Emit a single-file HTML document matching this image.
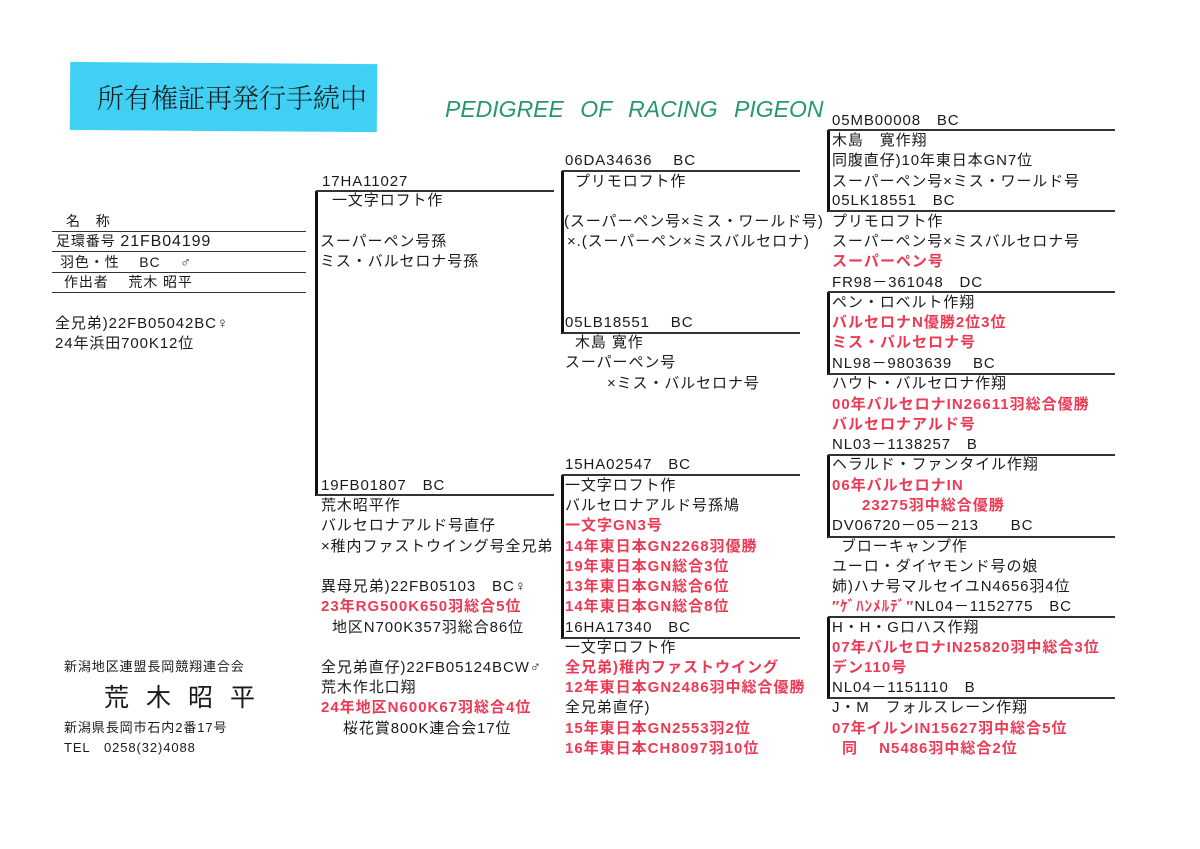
<!DOCTYPE html>
<html><head><meta charset="utf-8"><style>
body{margin:0;background:#fff;}
#p{position:relative;width:1200px;height:849px;overflow:hidden;font-family:"Liberation Sans","Noto Sans CJK JP",sans-serif;color:#1a1a1a;}
.t{position:absolute;font-size:15px;line-height:18px;white-space:nowrap;letter-spacing:0.9px;}
.r{color:#ec3a55;font-weight:bold;letter-spacing:1px;}
.h{position:absolute;height:2px;background:#333;}
.v{position:absolute;width:3px;background:#111;}
</style></head><body><div id="p">
<div style="position:absolute;left:70px;top:63px;width:307px;height:68px;background:#3fd0f3;transform:rotate(0.4deg)"></div>
<div class="t" style="left:97px;top:80px;font-size:27px;line-height:34px;letter-spacing:0px;font-family:'Noto Serif CJK SC','Noto Sans CJK JP',serif;font-weight:300;">所有権証再発行手続中</div>
<div class="t" style="left:445px;top:95px;font-size:23px;line-height:28px;font-style:italic;color:#27986a;letter-spacing:0px;word-spacing:10px;">PEDIGREE OF RACING PIGEON</div>

<!-- left table -->
<div class="t" style="left:66px;top:212px;font-size:14px;">名　称</div>
<div class="h" style="left:52px;top:231px;width:254px;height:1px"></div>
<div class="t" style="left:56px;top:232px;font-size:14px;">足環番号 <span style="font-size:16px">21FB04199</span></div>
<div class="h" style="left:52px;top:251px;width:254px;height:1px"></div>
<div class="t" style="left:60px;top:253px;font-size:14px;">羽色・性　 BC　 ♂</div>
<div class="h" style="left:52px;top:272px;width:254px;height:1px"></div>
<div class="t" style="left:64px;top:273px;font-size:14px;">作出者　 荒木 昭平</div>
<div class="h" style="left:52px;top:292px;width:254px;height:1px"></div>
<div class="t" style="left:55px;top:315px;">全兄弟)22FB05042BC♀</div>
<div class="t" style="left:55px;top:335px;">24年浜田700K12位</div>

<div class="t" style="left:64px;top:658px;font-size:13px;">新潟地区連盟長岡競翔連合会</div>
<div class="t" style="left:104px;top:684px;font-size:25px;line-height:28px;letter-spacing:17px;">荒木昭平</div>
<div class="t" style="left:64px;top:719px;font-size:13px;">新潟県長岡市石内2番17号</div>
<div class="t" style="left:64px;top:739px;font-size:13px;">TEL　0258(32)4088</div>

<!-- gen1 -->
<div class="v" style="left:315px;top:191px;height:305px"></div>
<div class="h" style="left:316px;top:190px;width:238px"></div>
<div class="h" style="left:316px;top:494px;width:238px"></div>
<div class="t" style="left:322px;top:173px;">17HA11027</div>
<div class="t" style="left:332px;top:192px;">一文字ロフト作</div>
<div class="t" style="left:320px;top:233px;">スーパーペン号孫</div>
<div class="t" style="left:320px;top:253px;">ミス・バルセロナ号孫</div>
<div class="t" style="left:321px;top:477px;">19FB01807　BC</div>
<div class="t" style="left:321px;top:497px;">荒木昭平作</div>
<div class="t" style="left:321px;top:517px;">バルセロナアルド号直仔</div>
<div class="t" style="left:321px;top:538px;">×稚内ファストウイング号全兄弟</div>
<div class="t" style="left:321px;top:578px;">異母兄弟)22FB05103　BC♀</div>
<div class="t r" style="left:321px;top:598px;">23年RG500K650羽総合5位</div>
<div class="t" style="left:332px;top:619px;">地区N700K357羽総合86位</div>
<div class="t" style="left:321px;top:659px;">全兄弟直仔)22FB05124BCW♂</div>
<div class="t" style="left:321px;top:679px;">荒木作北口翔</div>
<div class="t r" style="left:321px;top:699px;">24年地区N600K67羽総合4位</div>
<div class="t" style="left:343px;top:720px;">桜花賞800K連合会17位</div>

<!-- gen2 top -->
<div class="v" style="left:561px;top:171px;height:163px"></div>
<div class="h" style="left:562px;top:170px;width:238px"></div>
<div class="h" style="left:562px;top:332px;width:238px"></div>
<div class="t" style="left:565px;top:152px;">06DA34636　 BC</div>
<div class="t" style="left:575px;top:173px;">プリモロフト作</div>
<div class="t" style="left:564px;top:213px;">(スーパーペン号×ミス・ワールド号)</div>
<div class="t" style="left:567px;top:233px;">×.(スーパーペン×ミスバルセロナ)</div>
<div class="t" style="left:565px;top:314px;">05LB18551　 BC</div>
<div class="t" style="left:575px;top:334px;">木島 寛作</div>
<div class="t" style="left:565px;top:354px;">スーパーペン号</div>
<div class="t" style="left:607px;top:375px;">×ミス・バルセロナ号</div>

<!-- gen2 bottom -->
<div class="v" style="left:561px;top:475px;height:164px"></div>
<div class="h" style="left:562px;top:474px;width:238px"></div>
<div class="h" style="left:562px;top:637px;width:238px"></div>
<div class="t" style="left:565px;top:456px;">15HA02547　BC</div>
<div class="t" style="left:565px;top:477px;">一文字ロフト作</div>
<div class="t" style="left:565px;top:497px;">バルセロナアルド号孫鳩</div>
<div class="t r" style="left:565px;top:517px;">一文字GN3号</div>
<div class="t r" style="left:565px;top:538px;">14年東日本GN2268羽優勝</div>
<div class="t r" style="left:565px;top:558px;">19年東日本GN総合3位</div>
<div class="t r" style="left:565px;top:578px;">13年東日本GN総合6位</div>
<div class="t r" style="left:565px;top:598px;">14年東日本GN総合8位</div>
<div class="t" style="left:565px;top:619px;">16HA17340　BC</div>
<div class="t" style="left:565px;top:639px;">一文字ロフト作</div>
<div class="t r" style="left:565px;top:659px;">全兄弟)稚内ファストウイング</div>
<div class="t r" style="left:565px;top:679px;">12年東日本GN2486羽中総合優勝</div>
<div class="t" style="left:565px;top:699px;">全兄弟直仔)</div>
<div class="t r" style="left:565px;top:720px;">15年東日本GN2553羽2位</div>
<div class="t r" style="left:565px;top:740px;">16年東日本CH8097羽10位</div>

<!-- gen3 -->
<div class="v" style="left:827px;top:130px;height:82px"></div>
<div class="h" style="left:828px;top:129px;width:287px"></div>
<div class="h" style="left:828px;top:210px;width:287px"></div>
<div class="v" style="left:827px;top:292px;height:83px"></div>
<div class="h" style="left:828px;top:291px;width:287px"></div>
<div class="h" style="left:828px;top:373px;width:287px"></div>
<div class="v" style="left:827px;top:455px;height:83px"></div>
<div class="h" style="left:828px;top:454px;width:287px"></div>
<div class="h" style="left:828px;top:536px;width:287px"></div>
<div class="v" style="left:827px;top:617px;height:82px"></div>
<div class="h" style="left:828px;top:616px;width:287px"></div>
<div class="h" style="left:828px;top:697px;width:287px"></div>

<div class="t" style="left:832px;top:112px;">05MB00008　BC</div>
<div class="t" style="left:832px;top:132px;">木島　寛作翔</div>
<div class="t" style="left:832px;top:152px;">同腹直仔)10年東日本GN7位</div>
<div class="t" style="left:832px;top:173px;">スーパーペン号×ミス・ワールド号</div>
<div class="t" style="left:832px;top:192px;">05LK18551　BC</div>
<div class="t" style="left:832px;top:213px;">プリモロフト作</div>
<div class="t" style="left:832px;top:233px;">スーパーペン号×ミスバルセロナ号</div>
<div class="t r" style="left:832px;top:253px;">スーパーペン号</div>
<div class="t" style="left:832px;top:274px;">FR98－361048　DC</div>
<div class="t" style="left:832px;top:294px;">ペン・ロベルト作翔</div>
<div class="t r" style="left:832px;top:314px;">バルセロナN優勝2位3位</div>
<div class="t r" style="left:832px;top:334px;">ミス・バルセロナ号</div>
<div class="t" style="left:832px;top:355px;">NL98－9803639　 BC</div>
<div class="t" style="left:832px;top:375px;">ハウト・バルセロナ作翔</div>
<div class="t r" style="left:832px;top:396px;">00年バルセロナIN26611羽総合優勝</div>
<div class="t r" style="left:832px;top:416px;">バルセロナアルド号</div>
<div class="t" style="left:832px;top:436px;">NL03－1138257　B</div>
<div class="t" style="left:832px;top:456px;">ヘラルド・ファンタイル作翔</div>
<div class="t r" style="left:832px;top:477px;">06年バルセロナIN</div>
<div class="t r" style="left:862px;top:497px;">23275羽中総合優勝</div>
<div class="t" style="left:832px;top:517px;">DV06720－05－213　　BC</div>
<div class="t" style="left:841px;top:538px;">ブローキャンプ作</div>
<div class="t" style="left:832px;top:558px;">ユーロ・ダイヤモンド号の娘</div>
<div class="t" style="left:832px;top:578px;">姉)ハナ号マルセイユN4656羽4位</div>
<div class="t" style="left:832px;top:598px;"><span class="r">″ｹﾞﾊﾝﾒﾙﾃﾞ″</span>NL04－1152775　BC</div>
<div class="t" style="left:832px;top:619px;">H・H・Gロハス作翔</div>
<div class="t r" style="left:832px;top:639px;">07年バルセロナIN25820羽中総合3位</div>
<div class="t r" style="left:832px;top:659px;">デン110号</div>
<div class="t" style="left:832px;top:679px;">NL04－1151110　B</div>
<div class="t" style="left:832px;top:699px;">J・M　フォルスレーン作翔</div>
<div class="t r" style="left:832px;top:720px;">07年イルンIN15627羽中総合5位</div>
<div class="t r" style="left:842px;top:740px;">同　 N5486羽中総合2位</div>
</div></body></html>
